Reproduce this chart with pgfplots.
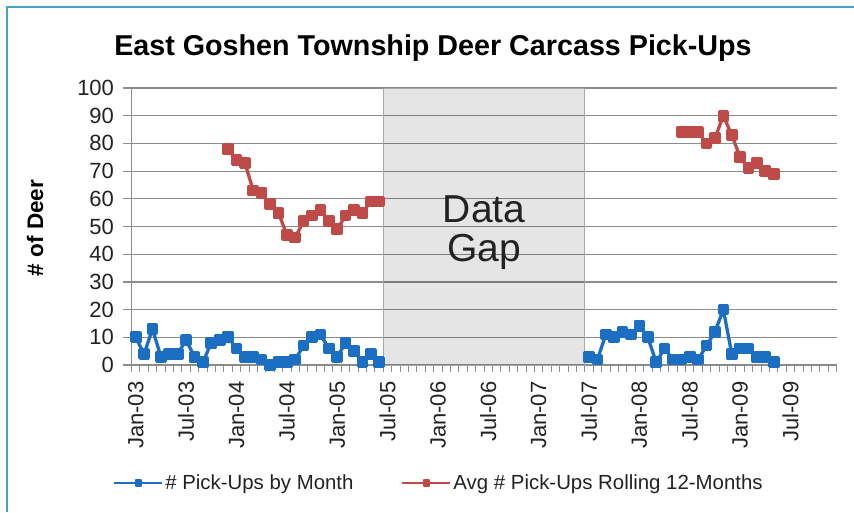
\documentclass[border=0pt]{standalone}
\usepackage{fontspec}
\setmainfont{Liberation Sans}
\usepackage{pgfplots}
\pgfplotsset{compat=1.18}
\definecolor{serblue}{HTML}{1B6EC2}
\definecolor{serred}{HTML}{BE4B48}
\definecolor{gridg}{HTML}{8C8C8C}
\definecolor{framec}{HTML}{4BA3C3}
\definecolor{bandedge}{HTML}{A8A8A8}
\definecolor{txt}{HTML}{222222}
\begin{document}
\begin{tikzpicture}
\useasboundingbox (0pt,0pt) rectangle (854pt,512pt);
\fill[white] (0pt,0pt) rectangle (854pt,512pt);
\draw[framec, line width=2pt] (7pt,0pt) -- (7pt,505pt) -- (854pt,505pt);
\node[font=\bfseries\fontsize{28.7}{32}\selectfont, anchor=base, text=black] at (433pt,456pt) {East Goshen Township Deer Carcass Pick-Ups};
\node[font=\bfseries\fontsize{22.5}{26}\selectfont, rotate=90, text=black] at (35pt,284pt) {\# of Deer};
\begin{axis}[
  scale only axis, width=705.2pt, height=277pt,
  at={(131.5pt,147pt)}, anchor=south west,
  xmin=-0.5, xmax=83.5, ymin=0, ymax=100,
  axis x line*=bottom, axis y line*=left,
  axis line style={gridg, line width=1.2pt, -},
  ytick={0,10,...,100},
  ymajorgrids, grid style={gridg, line width=1.2pt},
  xtick={0,6,...,78},
  xticklabels={Jan-03,Jul-03,Jan-04,Jul-04,Jan-05,Jul-05,Jan-06,Jul-06,Jan-07,Jul-07,Jan-08,Jul-08,Jan-09,Jul-09},
  minor xtick={-0.5,0.5,...,83.5},
  tick align=outside,
  major tick length=9pt, minor tick length=7pt,
  major x tick style={draw=none},
  minor x tick style={draw=gridg, line width=1pt},
  ytick style={gridg, line width=1.2pt},
  /pgf/number format/assume math mode=true,
  ticklabel style={font=\fontsize{22}{24}\selectfont, text=txt},
  xticklabel style={rotate=90, anchor=east, xshift=-4pt},
  yticklabel style={xshift=-5pt},
  legend style={draw=none, fill=none, at={(0.436,-0.426)}, anchor=center,
    legend columns=2, font=\fontsize{20.4}{23}\selectfont, text=txt,
    /tikz/every even column/.append style={column sep=46pt},
    inner sep=0pt, outer sep=0pt},
  legend cell align=left,
  legend image code/.code={\draw[mark repeat=2,mark phase=2,line width=2pt,mark size=2.6pt] plot coordinates {(0pt,0pt)(24pt,0pt)(48pt,0pt)};},
]
\addplot[fill=black, fill opacity=0.1, draw=bandedge, line width=1pt, forget plot] coordinates {(29.5,0) (29.5,100) (53.5,100) (53.5,0)} \closedcycle;

\addplot[serblue, line width=3.3pt, line join=round, mark=square*, mark size=4.2pt, mark options={solid, fill=serblue}] coordinates {
(0,10) (1,4) (2,13) (3,3) (4,4) (5,4) (6,9) (7,3) (8,1) (9,8) (10,9) (11,10)
(12,6) (13,3) (14,3) (15,2) (16,0) (17,1) (18,1) (19,2) (20,7) (21,10) (22,11) (23,6)
(24,3) (25,8) (26,5) (27,1) (28,4) (29,1)
};
\addlegendentry{\# Pick-Ups by Month}
\addplot[serred, line width=3.3pt, line join=round, mark=square*, mark size=4.2pt, mark options={solid, fill=serred}] coordinates {
(11,78) (12,74) (13,73) (14,63) (15,62) (16,58) (17,55) (18,47) (19,46) (20,52) (21,54) (22,56)
(23,52) (24,49) (25,54) (26,56) (27,55) (28,59) (29,59)
};
\addlegendentry{Avg \# Pick-Ups Rolling 12-Months}
\addplot[serblue, line width=3.3pt, line join=round, mark=square*, mark size=4.2pt, mark options={solid, fill=serblue}, forget plot] coordinates {
(54,3) (55,2) (56,11) (57,10) (58,12) (59,11) (60,14) (61,10) (62,1) (63,6) (64,2) (65,2)
(66,3) (67,2) (68,7) (69,12) (70,20) (71,4) (72,6) (73,6) (74,3) (75,3) (76,1)
};
\addplot[serred, line width=3.3pt, line join=round, mark=square*, mark size=4.2pt, mark options={solid, fill=serred}, forget plot] coordinates {
(65,84) (66,84) (67,84) (68,80) (69,82) (70,90) (71,83) (72,75) (73,71) (74,73) (75,70) (76,69)
};
\node[font=\fontsize{39}{42}\selectfont, anchor=base, text=txt] at (axis cs:41.5,51.6) {Data};
\node[font=\fontsize{39}{42}\selectfont, anchor=base, text=txt] at (axis cs:41.5,37.2) {Gap};
\end{axis}
\end{tikzpicture}
\end{document}
